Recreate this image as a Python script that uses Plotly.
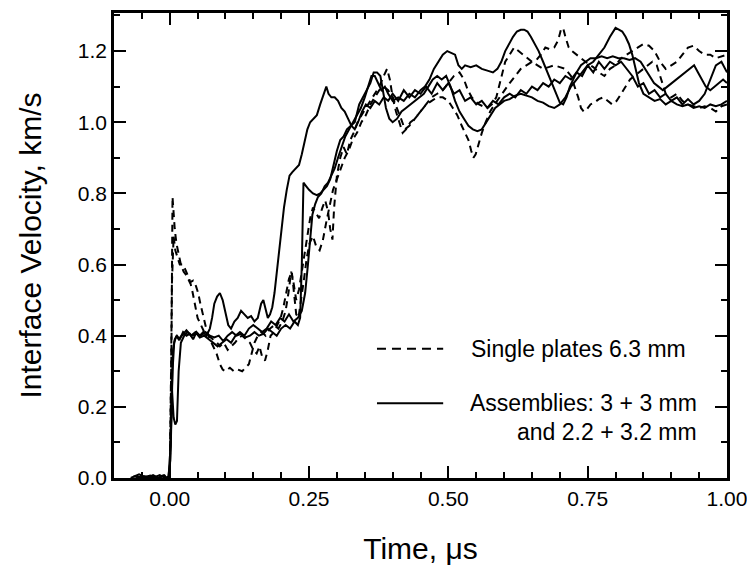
import plotly.graph_objects as go

# ---------------- data ----------------
# Single plates 6.3 mm (dashed), record 1
d1_t = [-0.06, -0.045, -0.03, -0.02, -0.01, -0.004, 0.0, 0.003, 0.005, 0.007, 0.009, 0.012, 0.016, 0.02, 0.025,
        0.03, 0.036, 0.042, 0.047, 0.051, 0.055, 0.059, 0.063, 0.067, 0.072, 0.078, 0.084, 0.09, 0.095, 0.1,
        0.108, 0.115, 0.122, 0.13, 0.137, 0.142, 0.147, 0.152, 0.158, 0.165, 0.172, 0.18, 0.188, 0.195, 0.202,
        0.208, 0.213, 0.218, 0.222, 0.227, 0.232, 0.237, 0.242, 0.247, 0.252, 0.257, 0.262, 0.268, 0.274, 0.279,
        0.284, 0.288, 0.292, 0.295, 0.3, 0.306, 0.312, 0.318, 0.324, 0.33, 0.337, 0.344, 0.352, 0.36, 0.368,
        0.376, 0.384, 0.39, 0.395, 0.4, 0.406, 0.412, 0.418, 0.424, 0.432, 0.44, 0.45, 0.46, 0.47, 0.48, 0.49,
        0.5, 0.51, 0.52, 0.528, 0.535, 0.542, 0.548, 0.555, 0.562, 0.57, 0.578, 0.586, 0.594, 0.602, 0.61, 0.618,
        0.626, 0.634, 0.642, 0.65, 0.658, 0.666, 0.674, 0.682, 0.69, 0.697, 0.702, 0.706, 0.71, 0.716, 0.722,
        0.73, 0.74, 0.75, 0.76, 0.77, 0.78, 0.79, 0.8, 0.81, 0.82, 0.83, 0.84, 0.85, 0.86, 0.87, 0.88, 0.89,
        0.9, 0.91, 0.92, 0.93, 0.94, 0.95, 0.96, 0.97, 0.98, 0.99, 1.0]
d1_v = [0.005, 0.0, 0.006, 0.0, 0.008, 0.002, -0.01, 0.35, 0.79, 0.74, 0.70, 0.66, 0.63, 0.60, 0.58,
        0.57, 0.55, 0.555, 0.54, 0.52, 0.49, 0.46, 0.43, 0.41, 0.39, 0.37, 0.35, 0.32, 0.305, 0.30,
        0.31, 0.30, 0.305, 0.30, 0.31, 0.32, 0.35, 0.38, 0.40, 0.41, 0.40, 0.42, 0.43, 0.42, 0.44,
        0.47, 0.52, 0.58, 0.55, 0.50, 0.53, 0.58, 0.64, 0.69, 0.73, 0.76, 0.745, 0.73, 0.76, 0.78,
        0.75, 0.70, 0.67, 0.76, 0.85, 0.90, 0.93, 0.91, 0.95, 0.97, 1.0, 1.02, 1.04, 1.06, 1.08,
        1.10, 1.13, 1.15, 1.12, 1.07, 1.03, 1.00, 0.97, 0.98, 1.0, 1.01, 1.03, 1.05, 1.07, 1.08, 1.09,
        1.11, 1.13, 1.14, 1.12, 1.09, 1.07, 1.06, 1.05, 1.045, 1.04, 1.05, 1.07, 1.12, 1.17, 1.19, 1.21,
        1.20, 1.19, 1.18, 1.17, 1.175, 1.19, 1.21, 1.205, 1.21, 1.23, 1.26, 1.265, 1.24, 1.21, 1.20,
        1.19, 1.175, 1.165, 1.155, 1.14, 1.13, 1.15, 1.16, 1.18, 1.19, 1.20, 1.21, 1.22, 1.215, 1.20, 1.17, 1.15,
        1.16, 1.17, 1.19, 1.21, 1.215, 1.20, 1.19, 1.19, 1.18, 1.185, 1.19]

# Single plates 6.3 mm (dashed), record 2
d2_t = [-0.06, -0.04, -0.025, -0.012, -0.004, 0.0, 0.002, 0.004, 0.007, 0.01, 0.014, 0.018, 0.024, 0.03, 0.035,
        0.04, 0.045, 0.05, 0.056, 0.062, 0.07, 0.078, 0.085, 0.09, 0.097, 0.104, 0.11, 0.117, 0.124, 0.13,
        0.137, 0.144, 0.15, 0.156, 0.161, 0.166, 0.171, 0.176, 0.181, 0.187, 0.193, 0.199, 0.204, 0.209, 0.214,
        0.219, 0.223, 0.227, 0.231, 0.236, 0.241, 0.246, 0.251, 0.257, 0.263, 0.269, 0.275, 0.281, 0.287, 0.293,
        0.3, 0.307, 0.314, 0.321, 0.328, 0.336, 0.344, 0.352, 0.36, 0.368, 0.376, 0.384, 0.392, 0.4, 0.408,
        0.415, 0.422, 0.43, 0.44, 0.45, 0.46, 0.47, 0.48, 0.49, 0.5, 0.508, 0.516, 0.524, 0.53, 0.536, 0.541,
        0.545, 0.549, 0.554, 0.56, 0.567, 0.575, 0.583, 0.592, 0.6, 0.61, 0.62, 0.63, 0.64, 0.65, 0.66, 0.67,
        0.68, 0.69, 0.7, 0.71, 0.72, 0.727, 0.733, 0.738, 0.743, 0.748, 0.755, 0.762, 0.77, 0.778, 0.786, 0.794,
        0.802, 0.81, 0.818, 0.826, 0.834, 0.842, 0.85, 0.858, 0.866, 0.874, 0.88, 0.885, 0.89, 0.9, 0.91, 0.92,
        0.93, 0.94, 0.95, 0.96, 0.97, 0.98, 0.99, 1.0]
d2_v = [0.0, 0.006, 0.0, 0.007, 0.0, 0.01, 0.25, 0.55, 0.68, 0.64, 0.62, 0.60, 0.60, 0.58, 0.56,
        0.53, 0.49, 0.45, 0.43, 0.41, 0.40, 0.39, 0.38, 0.37, 0.38, 0.36, 0.37, 0.38, 0.395, 0.40,
        0.39, 0.38, 0.36, 0.35, 0.37, 0.34, 0.33, 0.36, 0.40, 0.41, 0.43, 0.45, 0.48, 0.52, 0.56,
        0.58, 0.52, 0.46, 0.45, 0.50, 0.56, 0.62, 0.66, 0.68, 0.65, 0.64, 0.67, 0.72, 0.77, 0.81,
        0.84, 0.87, 0.90, 0.92, 0.95, 0.97, 1.0, 1.02, 1.05, 1.07, 1.09, 1.10, 1.09, 1.07, 1.04,
        1.01, 0.98, 0.99, 1.01, 1.03, 1.05, 1.06, 1.07, 1.07, 1.06, 1.04, 1.02, 0.99, 0.97, 0.95, 0.92,
        0.90, 0.91, 0.94, 0.97, 1.0, 1.03, 1.05, 1.07, 1.09, 1.11, 1.13, 1.15, 1.16, 1.17, 1.16, 1.15,
        1.155, 1.16, 1.155, 1.15, 1.13, 1.10, 1.07, 1.04, 1.03, 1.035, 1.05, 1.055, 1.065, 1.07, 1.06, 1.05,
        1.06, 1.08, 1.10, 1.12, 1.13, 1.14, 1.15, 1.16, 1.17, 1.16, 1.13, 1.10, 1.08, 1.07, 1.08, 1.06,
        1.05, 1.045, 1.04, 1.045, 1.04, 1.03, 1.045, 1.05]

# Assemblies (solid), record 1
s1_t = [-0.07, -0.055, -0.04, -0.03, -0.02, -0.012, -0.005, 0.0, 0.003, 0.006, 0.009, 0.013, 0.018, 0.024,
        0.03, 0.036, 0.042, 0.048, 0.054, 0.06, 0.066, 0.072, 0.076, 0.08, 0.085, 0.09, 0.095, 0.1, 0.105,
        0.11, 0.116, 0.122, 0.128, 0.134, 0.14, 0.146, 0.152, 0.158, 0.164, 0.168, 0.172, 0.176, 0.18, 0.184,
        0.188, 0.192, 0.196, 0.2, 0.205, 0.21, 0.215, 0.22, 0.226, 0.232, 0.237, 0.242, 0.247, 0.252, 0.258,
        0.264, 0.27, 0.276, 0.281, 0.285, 0.29, 0.296, 0.302, 0.308, 0.314, 0.32, 0.326, 0.332, 0.338, 0.345,
        0.352, 0.36, 0.368, 0.376, 0.384, 0.392, 0.4, 0.41, 0.42, 0.43, 0.44, 0.45, 0.46, 0.47, 0.48, 0.49,
        0.5, 0.51, 0.52, 0.53, 0.54, 0.55, 0.56, 0.57, 0.58, 0.59, 0.6, 0.61, 0.62, 0.63, 0.64, 0.65, 0.66,
        0.67, 0.68, 0.69, 0.7, 0.71, 0.72, 0.73, 0.74, 0.75, 0.76, 0.77, 0.78, 0.79, 0.8, 0.81, 0.82, 0.83,
        0.84, 0.85, 0.86, 0.87, 0.88, 0.89, 0.9, 0.91, 0.92, 0.93, 0.94, 0.95, 0.96, 0.97, 0.98, 0.99, 1.0]
s1_v = [0.0, 0.01, 0.0, 0.008, 0.0, 0.006, 0.0, 0.005, 0.20, 0.36, 0.39, 0.40, 0.39, 0.41,
        0.40, 0.405, 0.39, 0.41, 0.40, 0.41, 0.40, 0.42, 0.45, 0.49, 0.51, 0.52, 0.50, 0.46, 0.43,
        0.42, 0.44, 0.45, 0.47, 0.46, 0.45, 0.455, 0.44, 0.45, 0.49, 0.50, 0.47, 0.45, 0.46, 0.48,
        0.52, 0.58, 0.64, 0.70, 0.76, 0.81, 0.85, 0.86, 0.87, 0.88, 0.91, 0.95, 0.98, 1.00, 1.01,
        1.02, 1.05, 1.08, 1.10, 1.08, 1.07, 1.07, 1.06, 1.04, 1.03, 1.01, 0.99, 0.98, 1.0, 1.03,
        1.05, 1.04, 1.06, 1.05, 1.07, 1.06, 1.08, 1.06, 1.09, 1.07, 1.09, 1.08, 1.10, 1.08, 1.11, 1.09,
        1.11, 1.08, 1.09, 1.06, 1.07, 1.05, 1.06, 1.04, 1.06, 1.05, 1.07, 1.08, 1.07, 1.09, 1.08, 1.10, 1.09,
        1.11, 1.10, 1.12, 1.11, 1.13, 1.12, 1.14, 1.13, 1.16, 1.14, 1.17, 1.15, 1.17, 1.16, 1.17, 1.15, 1.13,
        1.10, 1.11, 1.08, 1.09, 1.07, 1.08, 1.06, 1.07, 1.05, 1.065, 1.05, 1.06, 1.08, 1.12, 1.16, 1.17, 1.14]

# Assemblies (solid), record 2
s2_t = [-0.065, -0.05, -0.035, -0.022, -0.01, -0.003, 0.001, 0.004, 0.007, 0.01, 0.013, 0.016, 0.02, 0.026,
        0.032, 0.04, 0.048, 0.056, 0.064, 0.072, 0.08, 0.088, 0.096, 0.104, 0.112, 0.12, 0.128, 0.136, 0.144,
        0.152, 0.16, 0.168, 0.176, 0.184, 0.192, 0.2, 0.208, 0.216, 0.224, 0.23, 0.234, 0.237, 0.24, 0.245,
        0.25, 0.257, 0.264, 0.27, 0.276, 0.282, 0.288, 0.294, 0.3, 0.306, 0.312, 0.318, 0.325, 0.332, 0.34,
        0.347, 0.354, 0.36, 0.366, 0.372, 0.378, 0.383, 0.388, 0.394, 0.4, 0.408, 0.416, 0.424, 0.432, 0.44,
        0.448, 0.456, 0.464, 0.472, 0.48, 0.488, 0.496, 0.504, 0.512, 0.52, 0.528, 0.536, 0.544, 0.552, 0.56,
        0.568, 0.576, 0.584, 0.592, 0.6, 0.61, 0.62, 0.63, 0.64, 0.65, 0.66, 0.67, 0.68, 0.69, 0.7, 0.71,
        0.72, 0.73, 0.74, 0.75, 0.76, 0.77, 0.78, 0.79, 0.8, 0.806, 0.812, 0.818, 0.824, 0.83, 0.836, 0.842,
        0.85, 0.86, 0.87, 0.88, 0.89, 0.9, 0.91, 0.92, 0.93, 0.94, 0.95, 0.96, 0.97, 0.98, 0.99, 1.0]
s2_v = [0.005, 0.0, 0.007, 0.0, 0.006, -0.005, 0.05, 0.25, 0.17, 0.15, 0.16, 0.30, 0.38, 0.40,
        0.41, 0.40, 0.405, 0.40, 0.41, 0.40, 0.395, 0.40, 0.385, 0.40, 0.41, 0.40, 0.405, 0.395, 0.40,
        0.41, 0.40, 0.405, 0.42, 0.41, 0.40, 0.42, 0.43, 0.42, 0.44, 0.43, 0.45, 0.60, 0.83, 0.82,
        0.81, 0.80, 0.795, 0.80, 0.81, 0.82, 0.84, 0.88, 0.92, 0.95, 0.96, 0.98, 0.99, 1.0, 1.05,
        1.07, 1.09, 1.11, 1.14, 1.14, 1.13, 1.08, 1.04, 1.01, 1.0, 1.01, 1.03, 1.04, 1.05, 1.06,
        1.07, 1.08, 1.10, 1.12, 1.13, 1.12, 1.13, 1.10, 1.06, 1.03, 1.01, 0.99, 0.98, 0.975, 0.98,
        1.0, 1.02, 1.04, 1.05, 1.06, 1.065, 1.075, 1.08, 1.075, 1.07, 1.06, 1.055, 1.045, 1.04, 1.05, 1.07,
        1.10, 1.12, 1.14, 1.16, 1.17, 1.19, 1.21, 1.24, 1.265, 1.26, 1.255, 1.24, 1.22, 1.19, 1.15, 1.11,
        1.08, 1.07, 1.06, 1.065, 1.05, 1.06, 1.05, 1.045, 1.05, 1.04, 1.045, 1.04, 1.05, 1.045, 1.05, 1.06]

# Assemblies (solid), record 3
s3_t = [-0.06, -0.045, -0.03, -0.018, -0.008, -0.002, 0.002, 0.005, 0.008, 0.012, 0.016, 0.022, 0.03, 0.038,
        0.046, 0.054, 0.062, 0.07, 0.078, 0.086, 0.094, 0.102, 0.11, 0.118, 0.126, 0.134, 0.142, 0.15, 0.158,
        0.166, 0.174, 0.182, 0.19, 0.198, 0.206, 0.214, 0.222, 0.23, 0.237, 0.243, 0.248, 0.252, 0.256, 0.261,
        0.266, 0.272, 0.278, 0.284, 0.29, 0.296, 0.302, 0.308, 0.315, 0.322, 0.329, 0.336, 0.343, 0.35, 0.356,
        0.362, 0.368, 0.374, 0.38, 0.386, 0.392, 0.4, 0.41, 0.42, 0.43, 0.44, 0.45, 0.458, 0.466, 0.474, 0.482,
        0.49, 0.498, 0.505, 0.512, 0.518, 0.524, 0.53, 0.54, 0.55, 0.56, 0.57, 0.58, 0.588, 0.595, 0.602, 0.609,
        0.616, 0.623, 0.63, 0.636, 0.642, 0.648, 0.655, 0.662, 0.67, 0.678, 0.686, 0.693, 0.7, 0.706, 0.712,
        0.718, 0.724, 0.73, 0.738, 0.746, 0.755, 0.765, 0.775, 0.785, 0.795, 0.805, 0.815, 0.825, 0.835, 0.845,
        0.853, 0.861, 0.869, 0.877, 0.885, 0.893, 0.901, 0.909, 0.917, 0.925, 0.933, 0.941, 0.948, 0.955, 0.962,
        0.97, 0.978, 0.986, 0.993, 1.0]
s3_v = [0.0, 0.005, 0.0, 0.008, 0.0, 0.004, 0.10, 0.30, 0.38, 0.40, 0.39, 0.40, 0.415, 0.40,
        0.41, 0.395, 0.40, 0.39, 0.38, 0.37, 0.38, 0.39, 0.38, 0.40, 0.41, 0.40, 0.42, 0.43, 0.42,
        0.41, 0.42, 0.44, 0.43, 0.45, 0.44, 0.46, 0.44, 0.45, 0.47, 0.52, 0.60, 0.68, 0.74, 0.77,
        0.79, 0.80, 0.82, 0.83, 0.85, 0.87, 0.90, 0.93, 0.96, 0.98, 1.00, 1.02, 1.04, 1.07, 1.10,
        1.13, 1.13, 1.11, 1.09, 1.10, 1.08, 1.06, 1.07, 1.06, 1.08, 1.07, 1.09, 1.10, 1.12, 1.15, 1.17,
        1.19, 1.20, 1.195, 1.19, 1.16, 1.15, 1.16, 1.155, 1.16, 1.15, 1.145, 1.14, 1.15, 1.17, 1.20, 1.22,
        1.24, 1.255, 1.26, 1.26, 1.255, 1.24, 1.22, 1.20, 1.17, 1.14, 1.11, 1.08, 1.055, 1.05, 1.07,
        1.10, 1.12, 1.14, 1.16, 1.17, 1.18, 1.18, 1.185, 1.18, 1.185, 1.18, 1.18, 1.175, 1.18, 1.17,
        1.15, 1.13, 1.11, 1.10, 1.09, 1.10, 1.11, 1.12, 1.13, 1.14, 1.15, 1.16, 1.14, 1.12, 1.10,
        1.09, 1.10, 1.11, 1.12, 1.11]

x_ticks = [0.0, 0.25, 0.5, 0.75, 1.0]
x_tick_text = ["0.00", "0.25", "0.50", "0.75", "1.00"]
y_ticks = [0.0, 0.2, 0.4, 0.6, 0.8, 1.0, 1.2]
y_tick_text = ["0.0", "0.2", "0.4", "0.6", "0.8", "1.0", "1.2"]

legend_single = "Single plates 6.3 mm"
legend_assembly_1 = "Assemblies: 3 + 3 mm"
legend_assembly_2 = "and 2.2 + 3.2 mm"

# ---------------- figure ----------------
fig = go.Figure()
dash_style = "7px,5px"
for t, v in [(d1_t, d1_v), (d2_t, d2_v)]:
    fig.add_trace(go.Scatter(x=t, y=v, mode="lines", showlegend=False,
                             line=dict(color="black", width=2, dash=dash_style)))
for t, v in [(s1_t, s1_v), (s2_t, s2_v), (s3_t, s3_v)]:
    fig.add_trace(go.Scatter(x=t, y=v, mode="lines", showlegend=False,
                             line=dict(color="black", width=2)))

tick_font = dict(family="Liberation Sans, Arial", size=21, color="black")
title_font = dict(family="Liberation Sans, Arial", size=30, color="black")

axis_common = dict(showline=True, linecolor="black", linewidth=2.5, mirror="allticks",
                   ticks="inside", ticklen=12, tickwidth=2, tickcolor="black",
                   showgrid=False, zeroline=False, tickfont=tick_font)

fig.update_xaxes(range=[-0.1, 1.0], tickvals=x_ticks, ticktext=x_tick_text,
                 minor=dict(dtick=0.05, tick0=0, ticks="inside", ticklen=6, tickwidth=1.5, tickcolor="black"),
                 title=dict(text="Time, μs", font=title_font, standoff=30), **axis_common)
fig.update_yaxes(range=[0, 1.307], tickvals=y_ticks, ticktext=y_tick_text,
                 minor=dict(dtick=0.1, tick0=0, ticks="inside", ticklen=6, tickwidth=1.5, tickcolor="black"),
                 title=dict(text="Interface Velocity, km/s", font=title_font, standoff=28), **axis_common)

# legend drawn inside the plot area
leg_font = dict(family="Liberation Sans, Arial", size=23, color="black")
fig.add_shape(type="line", xref="paper", yref="paper", x0=0.429, x1=0.537, y0=0.278, y1=0.278,
              line=dict(color="black", width=2, dash="9px,6px"))
fig.add_shape(type="line", xref="paper", yref="paper", x0=0.429, x1=0.537, y0=0.161, y1=0.161,
              line=dict(color="black", width=2))
fig.add_annotation(xref="paper", yref="paper", x=0.579, y=0.278, text=legend_single, showarrow=False,
                   xanchor="left", yanchor="middle", font=leg_font)
fig.add_annotation(xref="paper", yref="paper", x=0.955, y=0.161, text=legend_assembly_1, showarrow=False,
                   xanchor="right", yanchor="middle", font=leg_font)
fig.add_annotation(xref="paper", yref="paper", x=0.955, y=0.098, text=legend_assembly_2, showarrow=False,
                   xanchor="right", yanchor="middle", font=leg_font)

# page body adds an 8px margin, so the figure is offset by 8px
fig.update_layout(width=747, height=563, autosize=False,
                  margin=dict(l=106, r=28, t=2, b=93),
                  paper_bgcolor="white", plot_bgcolor="white", showlegend=False)

fig.write_html("out.html")
